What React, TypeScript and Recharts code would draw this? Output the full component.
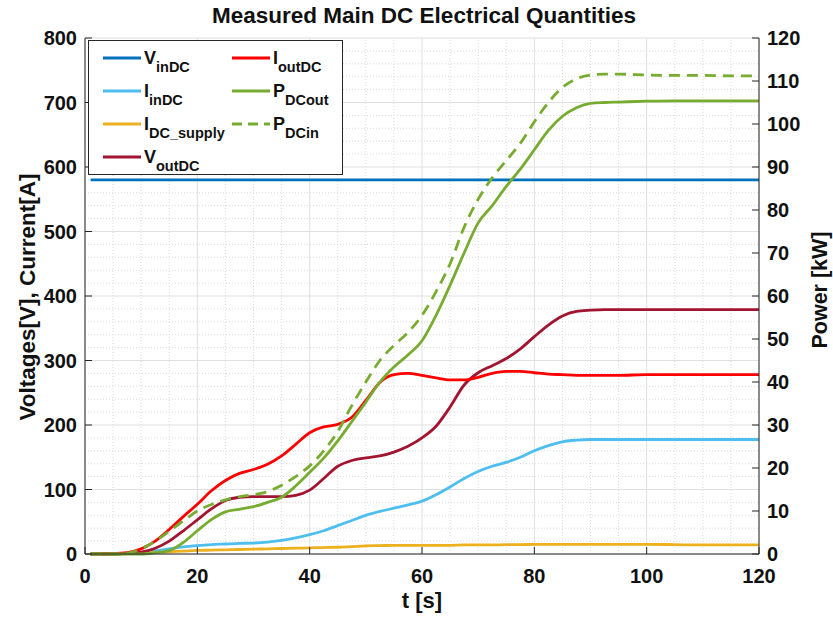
import { LineChart, Line, XAxis, YAxis, CartesianGrid, ReferenceLine } from 'recharts';

const FONT = '"Liberation Sans", Arial, Helvetica, sans-serif';

// time base [s]
const time = [1, 5, 7.5, 10, 12.5, 15, 17.5, 20, 22.5, 25, 27.5, 30, 32.5, 35, 37.5, 40, 42.5, 45, 47.5, 50, 52.5, 55, 57.5, 60, 62.5, 65, 67.5, 70, 72.5, 75, 77.5, 80, 82.5, 85, 87.5, 90, 92.5, 95, 100, 105, 110, 115, 120];

// left axis series [V] / [A]
const vInDC = [580, 580, 580, 580, 580, 580, 580, 580, 580, 580, 580, 580, 580, 580, 580, 580, 580, 580, 580, 580, 580, 580, 580, 580, 580, 580, 580, 580, 580, 580, 580, 580, 580, 580, 580, 580, 580, 580, 580, 580, 580, 580, 580];
const iOutDC = [0, 0.5, 2, 8, 20, 38, 58, 77, 98, 114, 125, 131, 139, 152, 170, 188, 197, 201, 212, 238, 266, 278, 280, 277, 273, 270, 270, 274, 280, 283, 283, 281, 279, 278, 277, 277, 277, 277, 278, 278, 278, 278, 278];
const vOutDC = [0, 0, 1, 3, 9, 20, 36, 53, 70, 83, 88, 89, 89, 89, 91, 99, 117, 136, 145, 149, 152, 158, 167, 180, 198, 228, 262, 281, 292, 303, 318, 337, 355, 369, 376, 378, 379, 379, 379, 379, 379, 379, 379];
const iInDC = [0, 0, 0.5, 2, 5, 8, 11, 13, 14.5, 15.5, 16.5, 17, 18.5, 21, 25, 30, 36, 44, 52, 60, 66, 71, 76, 82, 92, 104, 117, 128, 136, 142, 150, 160, 168, 174, 176.5, 177.5, 177.5, 177.5, 177.5, 177.5, 177.5, 177.5, 177.5];
const iDcSupply = [0, 0, 0.5, 1.5, 2.5, 3.5, 4.5, 5.5, 6, 6.5, 7, 7.5, 8, 8.5, 9, 9.5, 10, 10.5, 11.5, 12.5, 13, 13.5, 13.5, 13.5, 13.5, 13.5, 14, 14, 14, 14.5, 14.5, 15, 15, 15, 15, 15, 15, 15, 15, 14.5, 14, 14, 14];

// right axis series [kW]
const pDcOut = [0, 0, 0, 0, 0.3, 0.8, 2.7, 5.4, 8, 9.8, 10.4, 11, 12, 13.2, 15.8, 19, 22.3, 26.3, 30.8, 35.3, 40, 43.5, 46.3, 49.6, 55.5, 62.5, 70, 77, 81, 85.5, 89.5, 94, 98.5, 101.8, 103.8, 104.8, 105, 105.1, 105.3, 105.4, 105.4, 105.4, 105.4];
const pDcIn = [0, 0, 0.2, 1.2, 3, 5.3, 7.7, 10, 11.5, 12.6, 13.3, 13.8, 14.5, 16, 18, 20.5, 24, 28.5, 34.5, 40, 45, 48.5, 51.5, 55.5, 61, 67.5, 76, 82.5, 87.5, 91.5, 95.5, 100.5, 105, 108.5, 110.5, 111.4, 111.6, 111.6, 111.4, 111.3, 111.3, 111.2, 111.2];

// ticks
const tTicks = [0, 20, 40, 60, 80, 100, 120];
const tMinor = [5, 10, 15, 25, 30, 35, 45, 50, 55, 65, 70, 75, 85, 90, 95, 105, 110, 115];
const vTicks = [0, 100, 200, 300, 400, 500, 600, 700, 800];
const vMinor = [20, 40, 60, 80, 120, 140, 160, 180, 220, 240, 260, 280, 320, 340, 360, 380, 420, 440, 460, 480, 520, 540, 560, 580, 620, 640, 660, 680, 720, 740, 760, 780];
const pTicks = [0, 10, 20, 30, 40, 50, 60, 70, 80, 90, 100, 110, 120];

const COLORS = {
  vin: '#0072BD',
  iin: '#4DBEEE',
  isup: '#EDB120',
  vout: '#A2142F',
  iout: '#FF0000',
  pout: '#77AC30',
  pin: '#77AC30',
};

const data = time.map((t, i) => ({
  t,
  vInDC: vInDC[i],
  iOutDC: iOutDC[i],
  vOutDC: vOutDC[i],
  iInDC: iInDC[i],
  iDcSupply: iDcSupply[i],
  pDcOut: pDcOut[i],
  pDcIn: pDcIn[i],
}));

const legendItems = [
  { main: 'V', sub: 'inDC', color: COLORS.vin, dashed: false, col: 0, row: 0 },
  { main: 'I', sub: 'inDC', color: COLORS.iin, dashed: false, col: 0, row: 1 },
  { main: 'I', sub: 'DC_supply', color: COLORS.isup, dashed: false, col: 0, row: 2 },
  { main: 'V', sub: 'outDC', color: COLORS.vout, dashed: false, col: 0, row: 3 },
  { main: 'I', sub: 'outDC', color: COLORS.iout, dashed: false, col: 1, row: 0 },
  { main: 'P', sub: 'DCout', color: COLORS.pout, dashed: false, col: 1, row: 1 },
  { main: 'P', sub: 'DCin', color: COLORS.pin, dashed: true, col: 1, row: 2 },
];

const tickStyle = { fontSize: 20, fontWeight: 700, fill: '#111', fontFamily: FONT };
const AXIS = '#262626';

function LegendBox() {
  const colX = [14, 143];
  const rowY = [17, 50, 83, 116];
  return (
    <div
      style={{
        position: 'absolute',
        left: 88,
        top: 40,
        width: 253,
        height: 133,
        border: `1px solid ${AXIS}`,
        background: '#fff',
        fontFamily: FONT,
        fontWeight: 700,
      }}
    >
      {legendItems.map((it) => (
        <div
          key={it.main + it.sub}
          style={{
            position: 'absolute',
            left: colX[it.col],
            top: rowY[it.row] - 12,
            height: 24,
            display: 'flex',
            alignItems: 'center',
            whiteSpace: 'nowrap',
          }}
        >
          <svg width={38} height={24} style={{ display: 'block' }}>
            <line x1={0} x2={38} y1={12} y2={12} stroke={it.color} strokeWidth={3} strokeDasharray={it.dashed ? '10 6' : undefined} />
          </svg>
          <span style={{ marginLeft: 3, fontSize: 18, lineHeight: '24px', color: '#111' }}>
            {it.main}
            <span style={{ fontSize: 14.5, position: 'relative', top: 8 }}>{it.sub}</span>
          </span>
        </div>
      ))}
    </div>
  );
}

export default function App() {
  return (
    <div style={{ position: 'absolute', left: 0, top: 0, width: 833, height: 617, background: '#fff', fontFamily: FONT }}>
      <LineChart width={833} height={617} data={data} margin={{ top: 38, right: 0, bottom: 0, left: 0 }}>
        <CartesianGrid xAxisId="t" yAxisId="v" stroke="#e0e0e0" strokeWidth={1} />
        {tMinor.map((m) => (
          <ReferenceLine key={'tx' + m} xAxisId="t" yAxisId="v" x={m} stroke="#dadada" strokeDasharray="1 2" />
        ))}
        {vMinor.map((m) => (
          <ReferenceLine key={'vy' + m} xAxisId="t" yAxisId="v" y={m} stroke="#dadada" strokeDasharray="1 2" />
        ))}
        <XAxis
          xAxisId="t"
          dataKey="t"
          type="number"
          domain={[0, 120]}
          ticks={tTicks}
          height={63}
          tickSize={-7}
          tickMargin={22}
          stroke={AXIS}
          tick={tickStyle}
          allowDataOverflow
        />
        <XAxis
          xAxisId="top"
          orientation="top"
          dataKey="t"
          type="number"
          domain={[0, 120]}
          ticks={tTicks}
          height={0}
          tickSize={-7}
          tick={false}
          stroke={AXIS}
        />
        <YAxis
          yAxisId="v"
          type="number"
          domain={[0, 800]}
          ticks={vTicks}
          width={85}
          tickSize={-7}
          tickMargin={15}
          stroke={AXIS}
          tick={tickStyle}
        />
        <YAxis
          yAxisId="p"
          orientation="right"
          type="number"
          domain={[0, 120]}
          ticks={pTicks}
          width={74}
          tickSize={-7}
          tickMargin={15}
          stroke={AXIS}
          tick={{ ...tickStyle, textAnchor: 'start' }}
        />
        <Line xAxisId="t" yAxisId="v" type="monotone" dataKey="vInDC" stroke={COLORS.vin} strokeWidth={2.8} dot={false} isAnimationActive={false} />
        <Line xAxisId="t" yAxisId="v" type="monotone" dataKey="iInDC" stroke={COLORS.iin} strokeWidth={2.8} dot={false} isAnimationActive={false} />
        <Line xAxisId="t" yAxisId="v" type="monotone" dataKey="iDcSupply" stroke={COLORS.isup} strokeWidth={2.8} dot={false} isAnimationActive={false} />
        <Line xAxisId="t" yAxisId="v" type="monotone" dataKey="vOutDC" stroke={COLORS.vout} strokeWidth={2.8} dot={false} isAnimationActive={false} />
        <Line xAxisId="t" yAxisId="v" type="monotone" dataKey="iOutDC" stroke={COLORS.iout} strokeWidth={2.8} dot={false} isAnimationActive={false} />
        <Line xAxisId="t" yAxisId="p" type="monotone" dataKey="pDcOut" stroke={COLORS.pout} strokeWidth={2.8} dot={false} isAnimationActive={false} />
        <Line xAxisId="t" yAxisId="p" type="monotone" dataKey="pDcIn" stroke={COLORS.pin} strokeWidth={2.8} strokeDasharray="11 7" dot={false} isAnimationActive={false} />
      </LineChart>

      <div style={{ position: 'absolute', left: 0, width: 848, top: 3, textAlign: 'center', fontSize: 22.5, fontWeight: 700, color: '#111' }}>
        Measured Main DC Electrical Quantities
      </div>
      <div style={{ position: 'absolute', left: 0, width: 844, top: 588, textAlign: 'center', fontSize: 22, fontWeight: 700, color: '#111' }}>
        t [s]
      </div>
      <div
        style={{
          position: 'absolute',
          left: 28,
          top: 297,
          transform: 'translate(-50%, -50%) rotate(-90deg)',
          whiteSpace: 'nowrap',
          fontSize: 22.5,
          fontWeight: 700,
          color: '#111',
        }}
      >
        Voltages[V], Current[A]
      </div>
      <div
        style={{
          position: 'absolute',
          left: 820,
          top: 290,
          transform: 'translate(-50%, -50%) rotate(-90deg)',
          whiteSpace: 'nowrap',
          fontSize: 21.5,
          fontWeight: 700,
          color: '#111',
        }}
      >
        Power [kW]
      </div>
      <LegendBox />
    </div>
  );
}
